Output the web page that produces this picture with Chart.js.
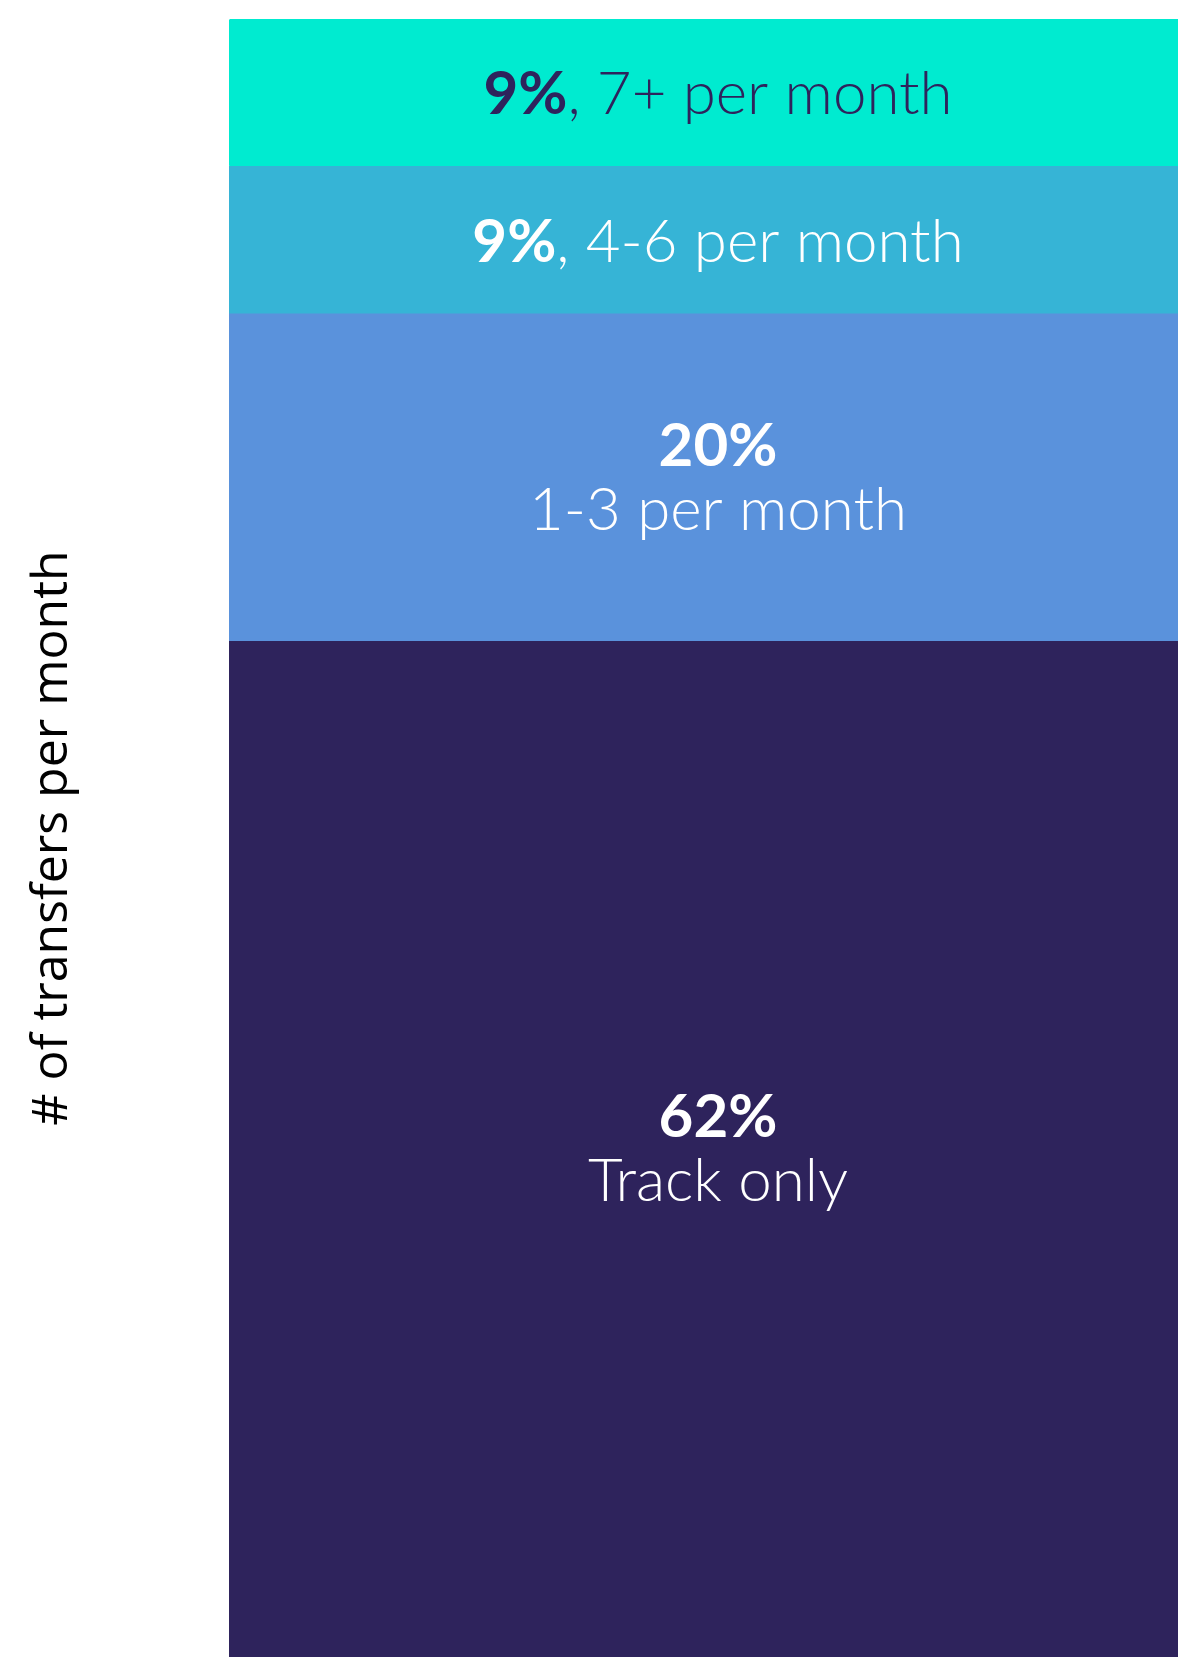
<!DOCTYPE html>
<html>
<head>
<meta charset="utf-8">
<script src="https://cdn.jsdelivr.net/npm/chart.js@4"></script>
<style>
  html, body { margin: 0; padding: 0; background: #ffffff; overflow: hidden; }
  #wrap { width: 1207px; height: 1657px; }
</style>
</head>
<body>
<div id="wrap"><canvas id="transfers-chart" width="1207" height="1657"></canvas></div>
<script>
// Data (stacked bottom to top)
const categories = ['All users'];
const bandNames = ['Track only', '1-3 per month', '4-6 per month', '7+ per month'];
const bandShares = [62, 20, 9, 9];
const axisTitle = '# of transfers per month';

// Styles
const bandColors = ['#2e235c', '#5a92dc', '#36b4d6', '#00ebd0'];
const textColors = ['#ffffff', '#ffffff', '#ffffff', '#2e235c'];
const LABEL_SIZE = 60;
const LABEL_FONT = 'Lato, "Open Sans", sans-serif';

// Draw the percentage + name inside each band
const bandLabels = {
    id: 'bandLabels',
    afterDatasetsDraw(chart) {
        const ctx = chart.ctx;
        const bold = '700 ' + LABEL_SIZE + 'px ' + LABEL_FONT;
        const reg = '300 ' + LABEL_SIZE + 'px ' + LABEL_FONT;
        chart.data.datasets.forEach((ds, i) => {
            const bar = chart.getDatasetMeta(i).data[0];
            const { x, y, base } = bar.getProps(['x', 'y', 'base'], true);
            const mid = (y + base) / 2;
            const pct = ds.data[0] + '%';
            ctx.save();
            ctx.fillStyle = textColors[i];
            ctx.textBaseline = 'alphabetic';
            if (Math.abs(base - y) < 180) {
                // short band: one line, bold share then name
                const rest = ', ' + ds.label;
                ctx.font = bold;
                const w1 = ctx.measureText(pct).width;
                ctx.font = reg;
                const w2 = ctx.measureText(rest).width;
                const left = x - (w1 + w2) / 2;
                const baseY = mid + LABEL_SIZE * 0.36;
                ctx.textAlign = 'left';
                ctx.font = bold;
                ctx.fillText(pct, left, baseY);
                ctx.font = reg;
                ctx.fillText(rest, left + w1, baseY);
            } else {
                ctx.textAlign = 'center';
                ctx.font = bold;
                ctx.fillText(pct, x, mid - 12);
                ctx.font = reg;
                ctx.fillText(ds.label, x, mid + 52);
            }
            ctx.restore();
        });
    }
};

const datasets = bandNames.map((name, i) => ({
    label: name,
    data: [bandShares[i]],
    backgroundColor: bandColors[i],
    borderWidth: 0,
    borderRadius: 3,
    borderSkipped: false,
    barPercentage: 1,
    categoryPercentage: 1
}));

new Chart(document.getElementById('transfers-chart'), {
    type: 'bar',
    data: { labels: categories, datasets: datasets },
    plugins: [bandLabels],
    options: {
        responsive: false,
        animation: false,
        layout: { padding: { top: 19, left: 23, right: 0, bottom: 0 } },
        plugins: {
            legend: { display: false },
            tooltip: { enabled: false }
        },
        scales: {
            x: {
                stacked: true,
                display: false
            },
            y: {
                stacked: true,
                min: 0,
                max: 100,
                grid: { display: false },
                border: { display: false },
                ticks: { display: false },
                title: {
                    display: true,
                    text: axisTitle,
                    color: '#000000',
                    font: { family: '"Open Sans", sans-serif', size: 50, lineHeight: 1.2 },
                    padding: { top: 0, bottom: 138 }
                }
            }
        }
    }
});
</script>
</body>
</html>
